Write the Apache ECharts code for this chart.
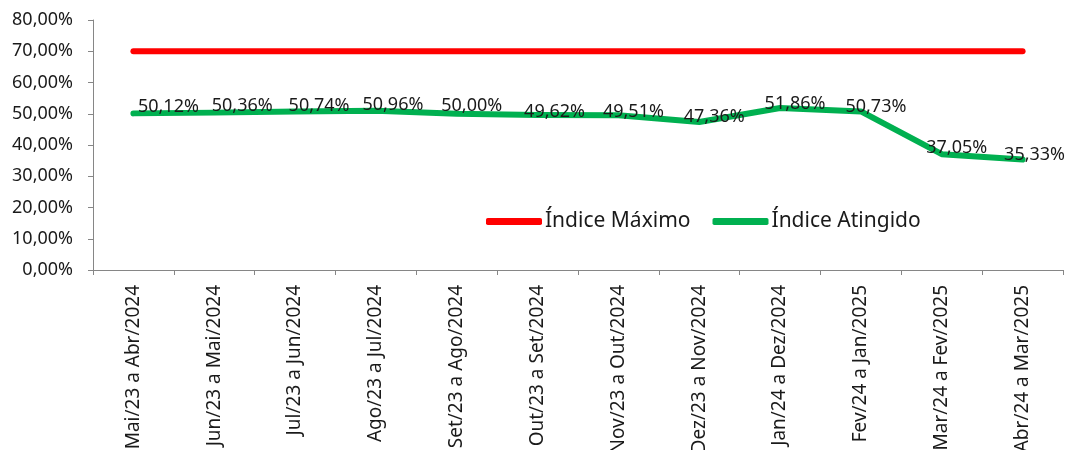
<!DOCTYPE html>
<html>
<head>
<meta charset="utf-8">
<script src="https://cdn.jsdelivr.net/npm/echarts@6/dist/echarts.min.js"></script>
<style>html,body{margin:0;padding:0;background:#fff}#c{width:1066px;height:450px}</style>
</head>
<body>
<div id="c"></div>
<script>
var categories = ['Mai/23 a Abr/2024','Jun/23 a Mai/2024','Jul/23 a Jun/2024','Ago/23 a Jul/2024','Set/23 a Ago/2024','Out/23 a Set/2024','Nov/23 a Out/2024','Dez/23 a Nov/2024','Jan/24 a Dez/2024','Fev/24 a Jan/2025','Mar/24 a Fev/2025','Abr/24 a Mar/2025'];
var indiceMaximo = [70,70,70,70,70,70,70,70,70,70,70,70];
var indiceAtingido = [50.12,50.36,50.74,50.96,50.00,49.62,49.51,47.36,51.86,50.73,37.05,35.33];
var yTicks = {min: 0, max: 80, interval: 10};

/* label placement (style only, manual placement as in the original) */
var labelShiftX = [35, 28, 24, 17, 15, 17, 15, 15, 15, 15, 15, 12];
var labelShiftY = [-7, -7, -6, -6, -8, -3, -3, -5, -4, -5, -6, -5];

var FONT = '"Noto Sans", sans-serif';
function fmt(v){ return v.toFixed(2).replace('.', ',') + '%'; }

var greenData = indiceAtingido.map(function(v, i){
  return {value: v, label: {offset: [labelShiftX[i], labelShiftY[i]]}};
});

var chart = echarts.init(document.getElementById('c'), null, {renderer: 'canvas'});
chart.setOption({
  animation: false,
  textStyle: {fontFamily: FONT},
  grid: {left: 93, right: 3, top: 20, bottom: 180, containLabel: false, outerBoundsMode: 'none'},
  legend: {
    left: 481, top: 206,
    itemWidth: 56, itemHeight: 7, itemGap: 22,
    icon: 'roundRect',
    textStyle: {fontFamily: FONT, fontSize: 21, color: '#1a1a1a', padding: [0,0,0,-2]},
    data: ['Índice Máximo', 'Índice Atingido']
  },
  xAxis: {
    type: 'category',
    data: categories,
    boundaryGap: true,
    axisLine: {lineStyle: {color: '#868686', width: 1}},
    axisTick: {show: true, length: 5, lineStyle: {color: '#868686'}},
    axisLabel: {rotate: 90, margin: 15, fontFamily: FONT, fontSize: 19, color: '#1a1a1a', interval: 0}
  },
  yAxis: {
    type: 'value',
    min: yTicks.min, max: yTicks.max, interval: yTicks.interval,
    splitLine: {show: false},
    axisLine: {show: true, lineStyle: {color: '#868686', width: 1}},
    axisTick: {show: true, length: 5, lineStyle: {color: '#868686'}},
    axisLabel: {margin: 20, fontFamily: FONT, fontSize: 18, color: '#1a1a1a', formatter: fmt}
  },
  series: [
    {
      name: 'Índice Máximo', type: 'line', data: indiceMaximo,
      symbol: 'none',
      itemStyle: {color: '#FF0000'},
      lineStyle: {color: '#FF0000', width: 6, cap: 'round', join: 'round'}
    },
    {
      name: 'Índice Atingido', type: 'line', data: greenData,
      symbol: 'circle', symbolSize: 4,
      itemStyle: {color: '#00B050'},
      lineStyle: {color: '#00B050', width: 6, cap: 'round', join: 'round'},
      label: {
        show: true, position: 'inside',
        fontFamily: FONT, fontSize: 18, color: '#1a1a1a',
        formatter: function(p){ return fmt(p.value); }
      }
    }
  ]
});
</script>
</body>
</html>
